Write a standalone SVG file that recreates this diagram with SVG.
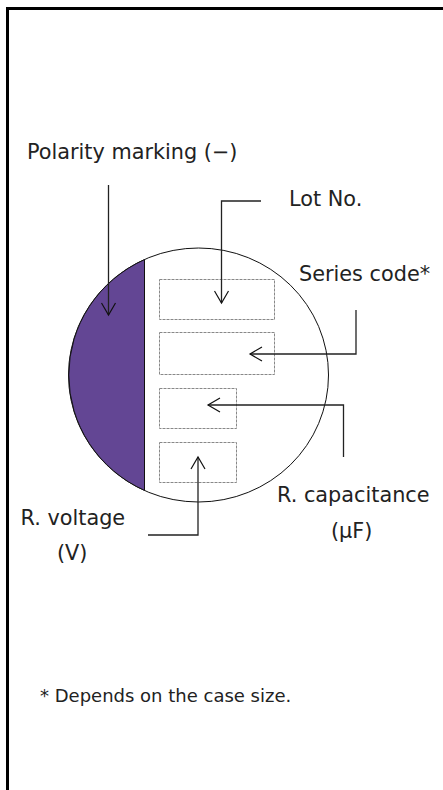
<svg xmlns="http://www.w3.org/2000/svg" width="443" height="790" viewBox="0 0 443 790">
<style>
text{font-family:"DejaVu Sans","Liberation Sans",sans-serif;font-size:20.8px;fill:#222}
.slot{fill:#fff;stroke:#888;stroke-width:1;stroke-dasharray:3 1}
.c{fill:none;stroke:#222;stroke-width:1.3}
.a{fill:none;stroke:#111;stroke-width:1.2}
</style>
<defs>
<marker id="h" viewBox="0 0 16 16" refX="14" refY="8" markerWidth="16" markerHeight="16" markerUnits="userSpaceOnUse" orient="auto"><path d="M2 1L14 8L2 15" class="a"/></marker>
</defs>
<rect width="443" height="790" fill="#fff"/>
<path d="M7.500 790V8.500H443" fill="none" stroke="#000" stroke-width="3"/>
<g id="capacitor"><ellipse cx="198.500" cy="375" rx="130" ry="127" fill="#fff" stroke="#111" stroke-width="1"/></g>
<g id="polarity-band"><path d="M144.500 259.600A130 127 0 0 0 144.500 490.400Z" fill="#634694" stroke="#111" stroke-width="1"/></g>
<g id="lot-box"><rect class="slot" x="159.500" y="279.500" width="115" height="40"/></g>
<g id="series-box"><rect class="slot" x="159.500" y="332.500" width="115" height="42"/></g>
<g id="capacitance-box"><rect class="slot" x="159.500" y="388.500" width="77" height="40"/></g>
<g id="voltage-box"><rect class="slot" x="159.500" y="442.500" width="77" height="40"/></g>
<g id="connectors">
<path class="c" marker-end="url(#h)" d="M108.500 185V315"/>
<path class="c" marker-end="url(#h)" d="M261 201H221.500V303"/>
<path class="c" marker-end="url(#h)" d="M356 310V354H250"/>
<path class="c" marker-end="url(#h)" d="M343.500 457V405H208"/>
<path class="c" marker-end="url(#h)" d="M148 535H198V457"/>
</g>
<g id="label-polarity"><text x="27" y="159">Polarity marking (−)</text></g>
<g id="label-lot"><text x="289" y="206">Lot No.</text></g>
<g id="label-series"><text x="299" y="281">Series code*</text></g>
<g id="label-capacitance"><text x="277" y="502">R. capacitance</text><text x="331" y="538">(μF)</text></g>
<g id="label-voltage"><text x="20.500" y="525">R. voltage</text><text x="57" y="560">(V)</text></g>
<g id="note"><text x="40" y="702" style="font-size:18px">* Depends on the case size.</text></g>
</svg>
